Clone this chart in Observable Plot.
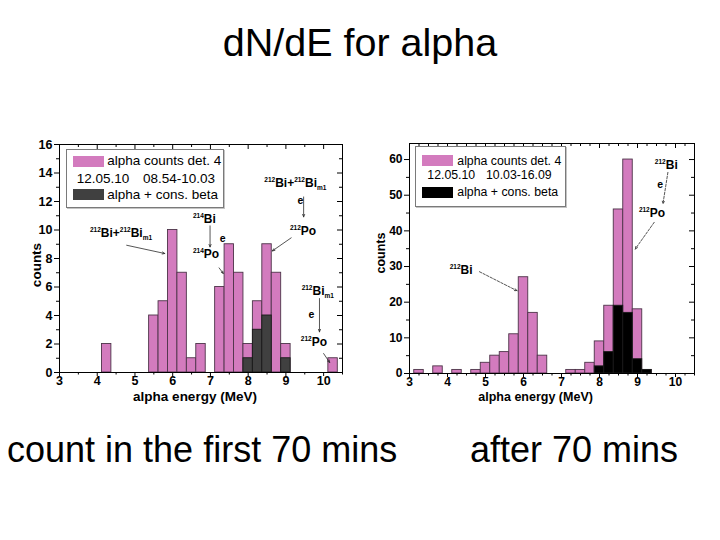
<!DOCTYPE html>
<html>
<head>
<meta charset="utf-8">
<script src="https://cdn.jsdelivr.net/npm/d3@7"></script>
<script src="https://cdn.jsdelivr.net/npm/@observablehq/plot@0.6"></script>
<style>
  body { margin: 0; background: #fff; }
  #page { position: relative; width: 720px; height: 540px; overflow: hidden; background: #fff;
          font-family: "Liberation Sans", Arial, sans-serif; color: #000; }
  .abs { position: absolute; white-space: pre; }
  .title { left: 0; width: 720px; text-align: center; font-size: 39.5px; line-height: 39.5px; }
  .caption { font-size: 36px; line-height: 36px; }
  .legend-box { box-sizing: border-box; border: 1px solid #7a7a7a; box-shadow: 1px 1px 0 #c4c4c4; background: #fff; }
</style>
</head>
<body>
<div id="page">
  <div class="abs title" style="top:22.6px">dN/dE for alpha</div>
  <div class="abs caption" style="left:7px; top:431.5px">count in the first 70 mins</div>
  <div class="abs caption" style="left:470px; top:431.5px">after 70 mins</div>
</div>
<script>
// Histogram bins are 0.25 MeV wide; energies are bin centres (MeV).
const binWidth = 0.25;

// Run 12.05.10 08.54-10.03 (first 70 minutes)
const energyEarly = [4.25, 5.5, 5.75, 6.0, 6.25, 6.5, 6.75, 7.25, 7.5, 7.75, 8.0, 8.25, 8.5, 8.75, 9.0, 10.25];
const countsEarly = [2, 4, 5, 10, 7, 1, 2, 6, 9, 7, 2, 5, 9, 7, 2, 1];
const betaEnergyEarly = [8.0, 8.25, 8.5, 9.0];
const betaCountsEarly = [1, 3, 4, 1];

// Run 12.05.10 10.03-16.09 (after 70 minutes)
const energyLate = [3.25, 3.75, 4.25, 4.75, 5.0, 5.25, 5.5, 5.75, 6.0, 6.25, 6.5, 7.25, 7.5, 7.75, 8.0, 8.25, 8.5, 8.75, 9.0, 9.25];
const countsLate = [1, 2, 1, 1, 3, 5, 6, 11, 27, 17, 5, 1, 1, 3, 9, 19, 46, 60, 18, 1];
const betaEnergyLate = [8.0, 8.25, 8.5, 8.75, 9.0, 9.25];
const betaCountsLate = [2, 6, 19, 17, 4, 1];

// Axis ticks
const xTicks = [3, 4, 5, 6, 7, 8, 9, 10];
const xMinorEarly = [3.5, 4.5, 5.5, 6.5, 7.5, 8.5, 9.5, 10.5];
const xMinorLate = [3.25, 3.5, 3.75, 4.25, 4.5, 4.75, 5.25, 5.5, 5.75, 6.25, 6.5, 6.75, 7.25, 7.5, 7.75, 8.25, 8.5, 8.75, 9.25, 9.5, 9.75, 10.25, 10.5];
const yTicksEarly = [0, 2, 4, 6, 8, 10, 12, 14, 16];
const yMinorEarly = [1, 3, 5, 7, 9, 11, 13, 15];
const yTicksLate = [0, 10, 20, 30, 40, 50, 60];
const yMinorLate = [5, 15, 25, 35, 45, 55];

// Decay annotations ("^" = superscript, "_" = subscript), placed in (MeV, counts)
const notesEarly = [
  {x: 3.82, y: 9.45, text: "^212Bi+^212Bi_m1"},
  {x: 6.55, y: 10.46, text: "^214Bi"},
  {x: 7.26, y: 9.14, text: "e", small: true},
  {x: 6.55, y: 8.0, text: "^214Po"},
  {x: 8.44, y: 12.95, text: "^212Bi+^212Bi_m1"},
  {x: 9.32, y: 11.76, text: "e", small: true},
  {x: 9.12, y: 9.63, text: "^212Po"},
  {x: 9.43, y: 5.42, text: "^212Bi_m1"},
  {x: 9.61, y: 3.79, text: "e", small: true},
  {x: 9.41, y: 1.85, text: "^212Po"}
];
const arrowsEarly = [
  {x1: 4.78, y1: 8.93, x2: 5.79, y2: 8.35},
  {x1: 6.99, y1: 10.29, x2: 6.99, y2: 8.81},
  {x1: 7.23, y1: 7.34, x2: 7.34, y2: 6.95},
  {x1: 9.47, y1: 12.32, x2: 9.47, y2: 10.92},
  {x1: 9.14, y1: 9.45, x2: 8.64, y2: 8.53},
  {x1: 9.89, y1: 5.19, x2: 9.89, y2: 2.85},
  {x1: 10.0, y1: 1.33, x2: 10.16, y2: 0.70}
];
const notesLate = [
  {x: 4.07, y: 27.9, text: "^212Bi"},
  {x: 9.47, y: 57.1, text: "^212Bi"},
  {x: 9.53, y: 51.8, text: "e", small: true},
  {x: 9.05, y: 43.8, text: "^212Po"}
];
const arrowsLate = [
  {x1: 4.84, y1: 28.55, x2: 5.83, y2: 23.2},
  {x1: 9.8, y1: 56.4, x2: 9.67, y2: 47.6},
  {x1: 9.44, y1: 42.4, x2: 8.94, y2: 34.9}
];

const pink = "#d37bbe";
const barStroke = "#4d3449";
const font = "'Liberation Sans', Arial, sans-serif";

function bins(energy, counts) {
  return energy.map((e, i) => ({x1: e - binWidth / 2, x2: e + binWidth / 2, count: counts[i]}));
}

function panel(o) {
  const W = 360, H = 280;
  const m = o.margin;
  const innerW = W - m.left - m.right;
  const innerH = H - m.top - m.bottom;
  const plot = Plot.plot({
    width: W, height: H,
    marginLeft: m.left, marginRight: m.right, marginTop: m.top, marginBottom: m.bottom,
    x: {domain: [3, 10.5]},
    y: {domain: o.yDomain},
    style: {fontFamily: font, fontWeight: "bold", fontSize: o.tickFont + "px", color: "#000", background: "transparent", overflow: "visible"},
    marks: [
      Plot.rectY(bins(o.energy, o.counts), {x1: "x1", x2: "x2", y: "count", fill: pink, stroke: barStroke, strokeWidth: 0.9}),
      Plot.rectY(bins(o.betaEnergy, o.betaCounts), {x1: "x1", x2: "x2", y: "count", fill: o.betaFill, stroke: "#1a1a1a", strokeWidth: 0.9}),
      Plot.frame({stroke: "#000", strokeWidth: 1}),
      // outward ticks with labels (bottom, left)
      Plot.axisX(xTicks, {anchor: "bottom", tickSize: 4, tickPadding: 0, label: null, fontSize: o.tickFont}),
      Plot.axisX(o.xMinor, {anchor: "bottom", tickSize: 2.5, tickFormat: () => "", label: null}),
      Plot.axisY(o.yTicks, {anchor: "left", tickSize: 5, tickPadding: 2, label: null, fontSize: o.tickFont}),
      Plot.axisY(o.yMinor, {anchor: "left", tickSize: 3, tickFormat: () => "", label: null}),
      // inward ticks (top, right)
      Plot.tickX(xTicks, {x: d => d, insetBottom: innerH - 5, stroke: "#000"}),
      Plot.tickX(o.xMinor, {x: d => d, insetBottom: innerH - 3, stroke: "#000"}),
      Plot.tickY(o.yTicks, {y: d => d, insetLeft: innerW - 5, stroke: "#000"}),
      Plot.tickY(o.yMinor, {y: d => d, insetLeft: innerW - 3, stroke: "#000"}),
      // decay arrows
      Plot.arrow(o.arrows, {x1: "x1", y1: "y1", x2: "x2", y2: "y2", stroke: "#2a2a2a", strokeWidth: 0.8,
        headLength: 5, headAngle: 45, strokeDasharray: o.dashed ? "2.5,1.5" : null})
    ]
  });

  const svg = d3.select(plot);

  // Axis titles
  const titles = svg.append("g").attr("font-family", font).attr("font-weight", "bold").attr("fill", "#000").attr("text-anchor", "middle");
  titles.append("text").attr("x", o.xTitle[0]).attr("y", o.xTitle[1]).attr("font-size", o.labelFont).text("alpha energy (MeV)");
  titles.append("text").attr("transform", `translate(${o.yTitle[0]},${o.yTitle[1]}) rotate(-90)`)
    .attr("dy", "0.35em").attr("font-size", o.labelFont).text("counts");

  // Isotope labels with super/subscripts, positioned through the plot's scales
  const sx = plot.scale("x"), sy = plot.scale("y");
  const g = svg.append("g").attr("font-family", font).attr("font-weight", "bold").attr("fill", "#000").attr("text-anchor", "start");
  const re = /\^(\d+)|_([a-z0-9]+)|([^\^_]+)/g;
  for (const n of o.notes) {
    const main = n.small ? 10.5 : 12;
    const t = g.append("text").attr("x", sx.apply(n.x)).attr("y", sy.apply(n.y)).attr("font-size", main);
    let shift = 0;
    for (const [, sup, sub, plain] of n.text.matchAll(re)) {
      const target = sup ? -5 : sub ? 3 : 0;
      t.append("tspan").attr("dy", target - shift).attr("font-size", sup || sub ? 6.5 : main).text(sup || sub || plain);
      shift = target;
    }
  }

  plot.style.position = "absolute";
  plot.style.left = o.left + "px";
  plot.style.top = o.top + "px";
  plot.style.maxWidth = "none";
  return plot;
}

const page = document.getElementById("page");

page.appendChild(panel({
  left: 0, top: 130,
  margin: {left: 59, right: 18, top: 14, bottom: 38},
  yDomain: [0, 16], yTicks: yTicksEarly, yMinor: yMinorEarly, xMinor: xMinorEarly,
  energy: energyEarly, counts: countsEarly, betaEnergy: betaEnergyEarly, betaCounts: betaCountsEarly,
  betaFill: "#404040", tickFont: 12.5, labelFont: 13.5,
  xTitle: [195, 270.5], yTitle: [36, 135],
  notes: notesEarly, arrows: arrowsEarly, dashed: false
}));

page.appendChild(panel({
  left: 360, top: 130,
  margin: {left: 49, right: 26, top: 13, bottom: 37},
  yDomain: [0, 64.5], yTicks: yTicksLate, yMinor: yMinorLate, xMinor: xMinorLate,
  energy: energyLate, counts: countsLate, betaEnergy: betaEnergyLate, betaCounts: betaCountsLate,
  betaFill: "#000", tickFont: 12, labelFont: 12.5,
  xTitle: [175.6, 270.5], yTitle: [21, 123],
  notes: notesLate, arrows: arrowsLate, dashed: true
}));

// Legends
function legend(o) {
  const box = document.createElement("div");
  box.className = "abs legend-box";
  Object.assign(box.style, {left: o.box[0] + "px", top: o.box[1] + "px", width: o.box[2] + "px", height: o.box[3] + "px"});
  page.appendChild(box);
  const fs = o.fontSize, base = 0.8465 * fs;
  const swatch = (x, y, w, h, c) => {
    const s = document.createElement("div");
    s.className = "abs";
    Object.assign(s.style, {left: x + "px", top: y + "px", width: w + "px", height: h + "px", background: c});
    page.appendChild(s);
  };
  const label = (x, baseline, text) => {
    const s = document.createElement("div");
    s.className = "abs";
    s.textContent = text;
    Object.assign(s.style, {left: x + "px", top: (baseline - base) + "px", fontSize: fs + "px", lineHeight: fs + "px"});
    page.appendChild(s);
  };
  swatch(...o.sw1, pink);
  swatch(...o.sw2, o.betaFill);
  label(o.textX, o.lines[0], "alpha counts det. 4");
  label(o.dateX, o.lines[1], o.date);
  label(o.timeX, o.lines[1], o.time);
  label(o.textX, o.lines[2], "alpha + cons. beta");
}

legend({
  box: [66, 149, 158, 59], sw1: [73, 155.5, 31, 11], sw2: [73, 188.5, 31, 11.5], betaFill: "#404040",
  fontSize: 13.5, textX: 107.3, dateX: 76.7, timeX: 143, lines: [165.7, 183.3, 199.3],
  date: "12.05.10", time: "08.54-10.03"
});
legend({
  box: [415, 146, 151, 61], sw1: [422.3, 155, 31, 11], sw2: [422.3, 186.7, 31, 11.6], betaFill: "#000",
  fontSize: 12.3, textX: 457.3, dateX: 427.3, timeX: 486, lines: [165, 179.3, 196.7],
  date: "12.05.10", time: "10.03-16.09"
});
</script>
</body>
</html>
